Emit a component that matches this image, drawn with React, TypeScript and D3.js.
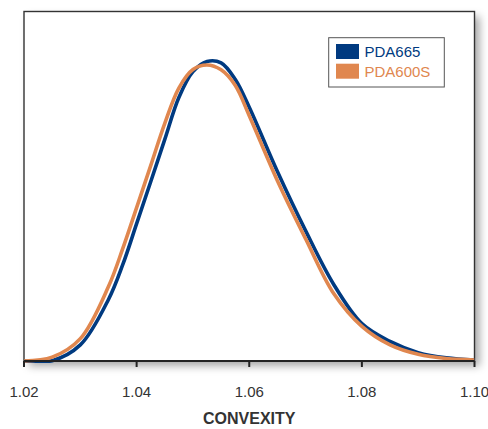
import React from "react";
import * as d3 from "d3";

// convexity grid (x) and relative frequency for each grade
const convexity = [
  1.02, 1.025, 1.03, 1.035, 1.0375, 1.04, 1.0425, 1.045, 1.0475, 1.05, 1.0525,
  1.055, 1.0575, 1.06, 1.065, 1.07, 1.075, 1.08, 1.085, 1.09, 1.095, 1.1,
];
const pda665 = [
  0, 0.1, 4.6, 17.6, 27.4, 39.3, 51.3, 63.4, 75.4, 82.8, 85.7, 85.3, 80.6,
  72.6, 54.2, 37.3, 21.9, 10.7, 5.6, 2.4, 0.9, 0.3,
];
const pda600s = [
  0, 1.1, 6.4, 21.3, 32.0, 43.9, 55.9, 68.0, 78.1, 83.4, 84.7, 83.3, 78.9,
  70.2, 51.6, 35.0, 19.3, 9.9, 4.6, 1.9, 0.7, 0.3,
];
const xTicks = [1.02, 1.04, 1.06, 1.08, 1.1];
const seriesNames = ["PDA665", "PDA600S"];
const seriesColors = ["#003a80", "#e0874f"];

export default function App() {
  const width = 488;
  const height = 429;
  const left = 24;
  const right = 474.5;
  const top = 11.5;
  const bottom = 361;

  const x = d3.scaleLinear().domain([1.02, 1.1]).range([left, right]);
  const y = d3.scaleLinear().domain([0, 100]).range([bottom, top]);

  const line = d3
    .line<number>()
    .x((_, i) => x(convexity[i]))
    .y((d) => y(d))
    .curve(d3.curveCatmullRom.alpha(0.5));

  const series = [pda665, pda600s];

  return (
    <svg
      width={width}
      height={height}
      style={{ position: "absolute", left: 0, top: 0, fontFamily: "Liberation Sans, Arial, sans-serif" }}
    >
      <defs>
        <filter id="shadow" x="-5%" y="-5%" width="115%" height="115%">
          <feDropShadow dx="5" dy="5" stdDeviation="4" floodColor="#000" floodOpacity="0.35" />
        </filter>
        <clipPath id="plot">
          <rect x={left} y={top} width={right - left} height={bottom - top + 2} />
        </clipPath>
      </defs>
      <rect width={width} height={height} fill="#fff" />
      <rect
        x={left}
        y={top}
        width={right - left}
        height={bottom - top}
        fill="#fff"
        filter="url(#shadow)"
      />
      <rect
        x={left}
        y={top}
        width={right - left}
        height={bottom - top}
        fill="none"
        stroke="#333"
        strokeWidth={1.4}
      />
      <g clipPath="url(#plot)">
        {series.map((s, i) => (
          <path
            key={seriesNames[i]}
            d={line(s) ?? ""}
            fill="none"
            stroke={seriesColors[i]}
            strokeWidth={3.6}
            strokeLinejoin="round"
          />
        ))}
      </g>
      <line x1={left} x2={right} y1={bottom} y2={bottom} stroke="#222" strokeWidth={2} />
      {xTicks.map((t) => (
        <g key={t}>
          <line x1={x(t)} x2={x(t)} y1={bottom} y2={bottom + 6} stroke="#222" strokeWidth={2} />
          <text x={x(t)} y={397} textAnchor="middle" fontSize={15} fill="#333">
            {d3.format(".2f")(t)}
          </text>
        </g>
      ))}
      <text x={x(1.06)} y={424} textAnchor="middle" fontSize={16} fontWeight="bold" fill="#333">
        CONVEXITY
      </text>
      <rect x={328.7} y={37.7} width={115.6} height={49.3} fill="#fff" stroke="#555" strokeWidth={1} />
      {seriesNames.map((n, i) => (
        <g key={n}>
          <rect x={336} y={44 + i * 19.7} width={23} height={15} fill={seriesColors[i]} />
          <text x={364.5} y={56.8 + i * 20} fontSize={15} fill={seriesColors[i]}>
            {n}
          </text>
        </g>
      ))}
    </svg>
  );
}
